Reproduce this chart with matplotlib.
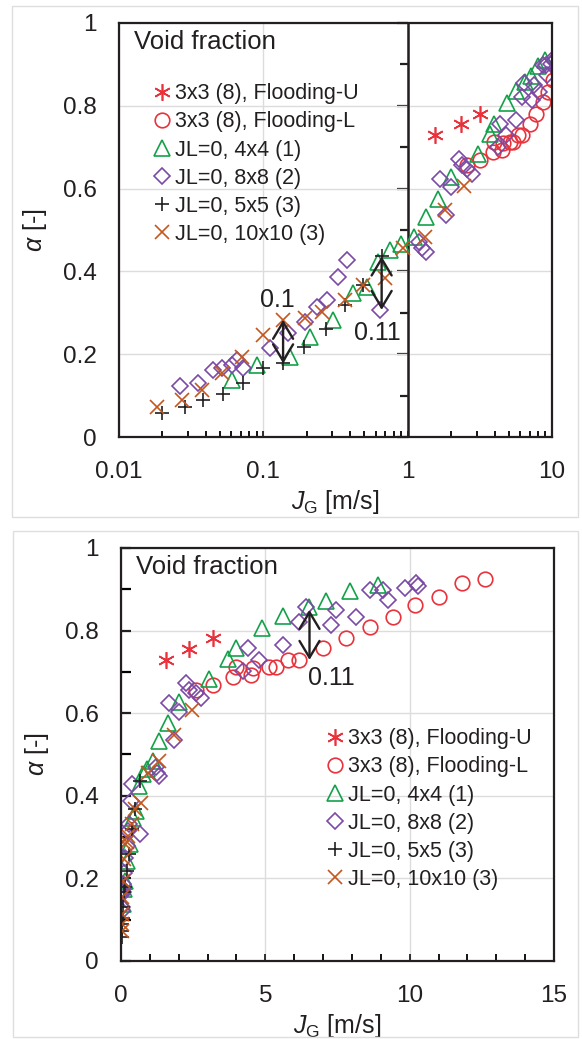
import matplotlib.pyplot as plt
import matplotlib.ticker as mticker
from matplotlib.patches import Rectangle

plt.rcParams['font.family'] = ['Liberation Sans', 'DejaVu Sans']
plt.rcParams['mathtext.fontset'] = 'custom'
plt.rcParams['mathtext.rm'] = 'Liberation Sans'
plt.rcParams['mathtext.it'] = 'Liberation Sans:italic'

# data
floodU_x = [1.55, 2.34, 3.17]
floodU_y = [0.729, 0.755, 0.781]

floodL_x = [2.59, 3.17, 3.87, 3.98, 4.50, 4.56, 5.14, 5.37, 5.78, 6.18, 6.99, 7.8,
            8.61, 9.42, 10.2, 11.0, 11.8, 12.6]
floodL_y = [0.656, 0.668, 0.688, 0.713, 0.692, 0.709, 0.713, 0.713, 0.729, 0.729, 0.757, 0.781,
            0.809, 0.834, 0.862, 0.882, 0.914, 0.925]

jl4_x = [0.0604, 0.090, 0.153, 0.211, 0.306, 0.42, 0.52, 0.627, 0.755, 0.90, 1.1, 1.33,
         1.63, 2.01, 3.06, 3.69, 3.98, 4.9, 5.6, 6.5, 7.1, 7.95, 8.9]
jl4_y = [0.138, 0.174, 0.194, 0.242, 0.283, 0.347, 0.363, 0.423, 0.452, 0.466, 0.484, 0.532,
         0.575, 0.628, 0.683, 0.731, 0.757, 0.806, 0.836, 0.858, 0.872, 0.895, 0.91]

jl8_x = [0.0265, 0.0355, 0.045, 0.0515, 0.0604, 0.0654, 0.0727, 0.111, 0.149, 0.194, 0.234,
         0.275, 0.331, 0.378, 0.644, 1.25, 1.33, 1.2, 1.84, 1.67, 2.01, 2.25, 2.36, 2.59, 2.77,
         4.21, 4.39, 4.79, 5.6, 6.18, 6.41, 7.28, 7.45, 8.15, 8.61, 9.07, 9.25, 9.83, 10.23, 10.3]
jl8_y = [0.122, 0.130, 0.162, 0.166, 0.174, 0.186, 0.166, 0.214, 0.25, 0.278, 0.315,
         0.331, 0.387, 0.428, 0.307, 0.456, 0.448, 0.47, 0.536, 0.624, 0.604, 0.672, 0.656, 0.648, 0.636,
         0.701, 0.757, 0.729, 0.765, 0.821, 0.856, 0.814, 0.850, 0.834, 0.898, 0.898, 0.874, 0.902, 0.914, 0.908]

jl5_x = [0.0198, 0.0286, 0.0384, 0.0528, 0.0727, 0.1, 0.137, 0.191, 0.272, 0.368, 0.49, 0.66]
jl5_y = [0.057, 0.073, 0.089, 0.105, 0.130, 0.166, 0.178, 0.218, 0.260, 0.319, 0.367, 0.436]

jl10_x = [0.0182, 0.0272, 0.0374, 0.0515, 0.0709, 0.1, 0.136, 0.194, 0.254, 0.368, 0.493,
          0.697, 0.933, 1.32, 1.82, 2.45]
jl10_y = [0.073, 0.089, 0.113, 0.154, 0.193, 0.246, 0.283, 0.287, 0.303, 0.331, 0.367,
          0.383, 0.456, 0.484, 0.548, 0.607]

series = [
    ('3x3 (8), Flooding-U', floodU_x, floodU_y, (6, 2, 0), '#e8323c', 12),
    ('3x3 (8), Flooding-L', floodL_x, floodL_y, 'o', '#e8323c', 10.5),
    ('JL=0, 4x4 (1)', jl4_x, jl4_y, '^', '#14a14a', 11),
    ('JL=0, 8x8 (2)', jl8_x, jl8_y, 'D', '#7b4aa5', 8),
    ('JL=0, 5x5 (3)', jl5_x, jl5_y, '+', '#231f20', 10.5),
    ('JL=0, 10x10 (3)', jl10_x, jl10_y, 'x', '#c4561e', 9.5),
]

# difference arrows: (x, y_from, y_to, label, label_x, label_y)
arrows_top = [(0.137, 0.178, 0.283, '0.1', 0.125, 0.33),
              (0.66, 0.436, 0.307, '0.11', 0.62, 0.251)]
arrows_bot = [(6.53, 0.850, 0.729, '0.11', 7.3, 0.685)]

dark = '#231f20'
grid_c = '#dcdcdc'

fig = plt.figure(figsize=(5.82, 10.39), dpi=100)
fig.patches.append(Rectangle((0.0206, 0.5024), 0.9725, 0.4918, transform=fig.transFigure,
                             fill=False, ec='#dedede', lw=1))
fig.patches.append(Rectangle((0.0223, 0.002), 0.971, 0.487, transform=fig.transFigure,
                             fill=False, ec='#dedede', lw=1))

ax1 = fig.add_axes([0.2045, 0.5794, 0.744, 0.3985])
ax2 = fig.add_axes([0.2079, 0.0751, 0.744, 0.3975])


def draw(ax, legend_anchor):
    handles = []
    for lab, x, y, m, c, ms in series:
        h, = ax.plot(x, y, ls='none', marker=m, ms=ms, mfc='none', mec=c, mew=1.2, label=lab)
        handles.append(h)
    ax.set_ylim(0, 1)
    ax.yaxis.set_major_locator(mticker.MultipleLocator(0.2))
    ax.yaxis.set_major_formatter(mticker.FuncFormatter(lambda v, p: f'{v:g}'))
    ax.grid(True, which='major', color=grid_c, lw=1)
    ax.set_axisbelow(True)
    for s in ax.spines.values():
        s.set_linewidth(1.6)
        s.set_color(dark)
    ax.tick_params(labelsize=17.5, colors=dark, labelcolor=dark)
    ax.set_ylabel(r'$\alpha$ [-]', fontsize=18, color=dark, labelpad=10)
    ax.set_xlabel(r'$J_{\mathrm{G}}$ [m/s]', fontsize=18, color=dark, labelpad=4)
    ax.text(0.035, 0.955, 'Void fraction', transform=ax.transAxes, fontsize=18.5,
            color=dark, va='center', ha='left')
    ax.legend(handles=handles, loc='upper left', bbox_to_anchor=legend_anchor, frameon=False,
              fontsize=15.5, handlelength=0.6, handletextpad=0.3, labelspacing=0.33,
              borderaxespad=0, labelcolor=dark)


def arrows(ax, items):
    for x, y0, y1, t, tx, ty in items:
        ax.annotate('', xy=(x, y1), xytext=(x, y0),
                    arrowprops=dict(arrowstyle='<->,head_length=0.5,head_width=0.3',
                                    color=dark, lw=1.7, shrinkA=0, shrinkB=0,
                                    mutation_scale=24))
        ax.text(tx, ty, t, fontsize=18, color=dark, ha='center', va='center')


# top panel, log x
draw(ax1, (0.065, 0.875))
ax1.set_xscale('log')
ax1.set_xlim(0.01, 10)
ax1.xaxis.set_major_formatter(mticker.FuncFormatter(lambda v, p: f'{v:g}'))
ax1.xaxis.set_minor_formatter(mticker.NullFormatter())
ax1.tick_params(axis='x', which='both', direction='in', length=4, width=1.3, pad=17)
ax1.tick_params(axis='y', which='both', length=0, pad=16)
ax1.axvline(1, color=dark, lw=1.8, zorder=1.5)
sec = ax1.secondary_yaxis(2 / 3)
sec.spines['left'].set_visible(False)
sec.yaxis.set_major_locator(mticker.MultipleLocator(0.2))
sec.yaxis.set_minor_locator(mticker.MultipleLocator(0.1))
sec.yaxis.set_major_formatter(mticker.NullFormatter())
sec.yaxis.set_minor_formatter(mticker.NullFormatter())
sec.tick_params(which='major', direction='in', length=8, width=1.6, colors=dark,
                labelleft=False, labelright=False)
sec.tick_params(which='minor', direction='in', length=5.5, width=1.6, colors=dark,
                labelleft=False, labelright=False)
ax1.grid(False, axis='x', which='minor')
arrows(ax1, arrows_top)

# bottom panel, linear x
draw(ax2, (0.46, 0.584))
ax2.set_xlim(0, 15)
ax2.xaxis.set_major_locator(mticker.MultipleLocator(5))
ax2.xaxis.set_minor_locator(mticker.MultipleLocator(1))
ax2.yaxis.set_minor_locator(mticker.MultipleLocator(0.1))
ax2.tick_params(axis='x', which='both', direction='in', length=5, width=1.3, pad=17)
ax2.tick_params(axis='y', which='both', direction='in', length=7, width=1.6, pad=16)
arrows(ax2, arrows_bot)

fig.savefig('out.png', dpi=100)
